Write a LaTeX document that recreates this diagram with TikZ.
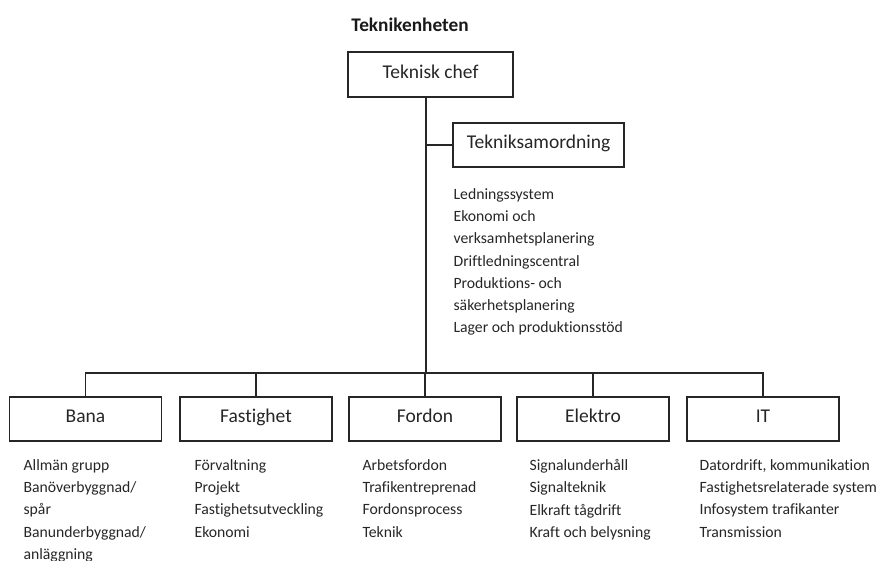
\documentclass[tikz,border=0pt]{standalone}
\usepackage{fontspec}
\setmainfont{Carlito}[Ligatures=NoCommon]
\begin{document}
\begin{tikzpicture}[x=1pt,y=-1pt,
  line width=1.2pt,
  unit/.style={draw=black!85, line width=1.2pt, inner sep=0pt, minimum height=44pt,
    text height=12.6pt, text depth=5.2pt,
    font=\fontsize{19.5}{22}\selectfont, text=black!85},
  dept/.style={unit, minimum width=152pt},
  tasks/.style={anchor=north west, inner sep=0pt, align=left, text=black!85,
    font=\fontsize{15.7}{22.2}\selectfont},
  link/.style={draw=black!85, line width=1.2pt}]
\useasboundingbox (0,0) rectangle (881,560);

% title
\node[font=\bfseries\fontsize{19.3}{22}\selectfont, text=black!90] (title) at (410,24.5) {Teknikenheten};

% head and staff unit
\node[unit, minimum width=165pt, minimum height=45pt] (chef) at (430.5,74.5) {Teknisk chef};
\node[unit, minimum width=171pt] (samord) at (538.5,145) {Tekniksamordning};
\node[tasks] (samordlist) at (453,188) {Ledningssystem\\Ekonomi och\\verksamhetsplanering\\Driftledningscentral\\Produktions- och\\säkerhetsplanering\\Lager och produktionsstöd};

% departments
\node[dept] (bana) at (85.5,419) {Bana};
\node[dept] (fast) at (256,419) {Fastighet};
\node[dept] (fordon) at (425,419) {Fordon};
\node[dept] (elektro) at (593,419) {Elektro};
\node[dept] (it) at (763,419) {IT};

\node[tasks] (banalist) at (23,459) {Allmän grupp\\Banöverbyggnad/\\spår\\Banunderbyggnad/\\anläggning};
\node[tasks] (fastlist) at (194,459) {Förvaltning\\Projekt\\Fastighetsutveckling\\Ekonomi};
\node[tasks] (fordonlist) at (362,459) {Arbetsfordon\\Trafikentreprenad\\Fordonsprocess\\Teknik};
\node[tasks] (elektrolist) at (529,459) {Signalunderhåll\\Signalteknik\\Elkraft tågdrift\\Kraft och belysning};
\node[tasks] (itlist) at (699,459) {Datordrift, kommunikation\\Fastighetsrelaterade system\\Infosystem trafikanter\\Transmission};

% connectors
\coordinate (trunk) at (426,373);
\draw[link] (chef.south -| trunk) -- (trunk);
\draw[link] (samord.west) -- (samord.west -| trunk);
\draw[link] (bana.north) |- (trunk) -| (it.north);
\draw[link] (fast.north) -- (fast.north |- trunk);
\draw[link] (fordon.north) -- (fordon.north |- trunk);
\draw[link] (elektro.north) -- (elektro.north |- trunk);
\end{tikzpicture}
\end{document}
